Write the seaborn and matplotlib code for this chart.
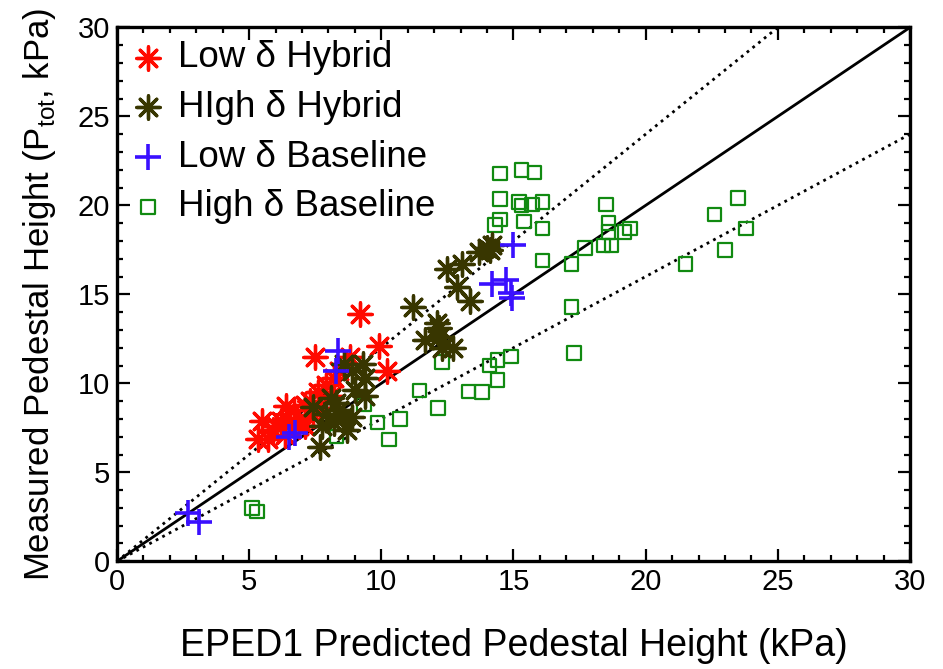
import matplotlib
matplotlib.use("Agg")
import matplotlib.pyplot as plt
import numpy as np
import pandas as pd
import seaborn as sns
from matplotlib.ticker import MultipleLocator

# Low delta hybrid discharges
low_hyb_x = [9.2, 9.9, 10.2, 7.5, 8.8, 6.4, 5.5, 5.35, 5.9, 6.35, 6.55, 6.9, 6.7,
             7.1, 7.3, 7.6, 7.9, 8.2, 8.1, 7.7, 7.1, 6.2, 5.7, 8.4, 6.0, 7.4]
low_hyb_y = [13.9, 12.1, 10.7, 11.5, 11.5, 8.7, 7.9, 6.9, 7.4, 7.1, 7.9, 7.6, 8.5,
             8.8, 9.0, 9.5, 9.9, 10.3, 9.3, 8.6, 7.6, 7.9, 6.9, 10.7, 7.6, 8.2]

# High delta hybrid discharges
high_hyb_x = [13.7, 14.0, 14.2, 14.1, 12.5, 13.05, 12.85, 13.35, 11.2, 12.1, 12.2,
              11.65, 12.2, 12.7, 12.3, 8.6, 9.3, 9.4, 8.9, 7.4, 8.1, 8.4, 8.9,
              8.2, 7.75, 7.7, 8.55, 8.7, 8.3, 7.9, 9.4, 9.0]
high_hyb_y = [17.4, 17.6, 17.8, 17.5, 16.4, 16.7, 15.4, 14.6, 14.3, 13.4, 13.1,
              12.45, 12.6, 12.0, 12.0, 11.1, 11.1, 10.3, 10.7, 8.65, 9.2, 8.5, 8.1,
              7.75, 7.6, 6.45, 8.1, 7.35, 8.9, 8.3, 9.3, 9.6]

# Low delta baseline discharges
low_base_x = [2.7, 3.1, 6.5, 6.75, 8.35, 8.3, 14.2, 14.7, 14.9, 15.0, 14.95]
low_base_y = [2.7, 2.2, 7.0, 7.2, 11.8, 10.7, 15.6, 15.8, 15.1, 17.8, 14.8]

# High delta baseline discharges
high_base_x = [5.1, 5.3, 8.3, 9.35, 9.85, 10.3, 10.7, 11.45, 12.15, 13.3, 13.8,
               14.4, 14.1, 14.4, 14.9, 12.3, 14.5, 15.3, 15.8, 14.5, 15.2, 15.3,
               15.7, 16.1, 14.5, 14.3, 15.4, 16.1, 16.1, 18.5, 18.6, 18.6, 18.4,
               18.7, 19.2, 19.4, 17.7, 17.2, 17.2, 17.3, 21.5, 22.6, 23.5, 23.8, 23.0]
high_base_y = [3.0, 2.8, 7.0, 8.8, 7.8, 6.85, 8.0, 9.6, 8.6, 9.55, 9.5,
               10.2, 11.0, 11.3, 11.5, 11.2, 21.8, 22.0, 21.85, 20.35, 20.2, 20.0,
               20.05, 20.2, 19.2, 18.9, 19.1, 18.7, 16.9, 20.05, 19.0, 18.5, 17.75,
               17.75, 18.5, 18.7, 17.6, 16.7, 14.3, 11.7, 16.7, 19.5, 20.4, 18.7, 17.5]

# measured / predicted ratio guide lines
ratios = [1.0, 1.2, 0.8]
ratio_styles = ["-", ":", ":"]
x_range = [0, 30]

sns.set_style("ticks")
plt.rcParams["font.family"] = ["Liberation Sans", "DejaVu Sans"]
for key in ["text.color", "axes.labelcolor", "xtick.color", "ytick.color"]:
    plt.rcParams[key] = "black"

fig = plt.figure(figsize=(9.43, 6.69), dpi=100)
ax = fig.add_axes([0.124, 0.161, 0.841, 0.798])

for r, ls in zip(ratios, ratio_styles):
    guide = pd.DataFrame({"x": x_range, "y": [r * v for v in x_range]})
    sns.lineplot(data=guide, x="x", y="y", ax=ax, color="black",
                 linestyle=ls, linewidth=2.0, zorder=1)

sns.scatterplot(x=low_hyb_x, y=low_hyb_y, ax=ax, marker=(8, 2, 0), s=280,
                color="#ff0a00", linewidth=2.4, label="Low δ Hybrid", zorder=3)
sns.scatterplot(x=high_hyb_x, y=high_hyb_y, ax=ax, marker=(8, 2, 0), s=280,
                color="#383600", linewidth=2.4, label="HIgh δ Hybrid", zorder=4)
sns.scatterplot(x=low_base_x, y=low_base_y, ax=ax, marker="+", s=330,
                color="#3a10ff", linewidth=2.6, label="Low δ Baseline", zorder=5)
sns.scatterplot(x=high_base_x, y=high_base_y, ax=ax, marker="s", s=95,
                facecolor="none", edgecolor="#118a11", linewidth=1.6,
                label="High δ Baseline", zorder=2)

ax.set_xlim(0, 30)
ax.set_ylim(0, 30)
ax.xaxis.set_major_locator(MultipleLocator(5))
ax.yaxis.set_major_locator(MultipleLocator(5))
ax.xaxis.set_minor_locator(MultipleLocator(1))
ax.yaxis.set_minor_locator(MultipleLocator(1))
ax.tick_params(which="both", direction="in", top=True, right=True, width=1.6,
               color="black")
ax.tick_params(which="major", length=9, labelsize=21, pad=5)
ax.tick_params(which="minor", length=4.5)
for sp in ax.spines.values():
    sp.set_linewidth(2.4)
    sp.set_color("black")

ax.set_xlabel("EPED1 Predicted Pedestal Height (kPa)", fontsize=27, labelpad=23)
ax.set_ylabel("Measured Pedestal Height (P$_\\mathregular{tot}$, kPa)", fontsize=25,
              labelpad=14)

leg = ax.legend(loc="upper left", frameon=False, fontsize=26.5, handletextpad=0.3,
                labelspacing=0.4, borderaxespad=0.15, handlelength=1.0,
                borderpad=0.2)

fig.savefig("out.png", dpi=100)
